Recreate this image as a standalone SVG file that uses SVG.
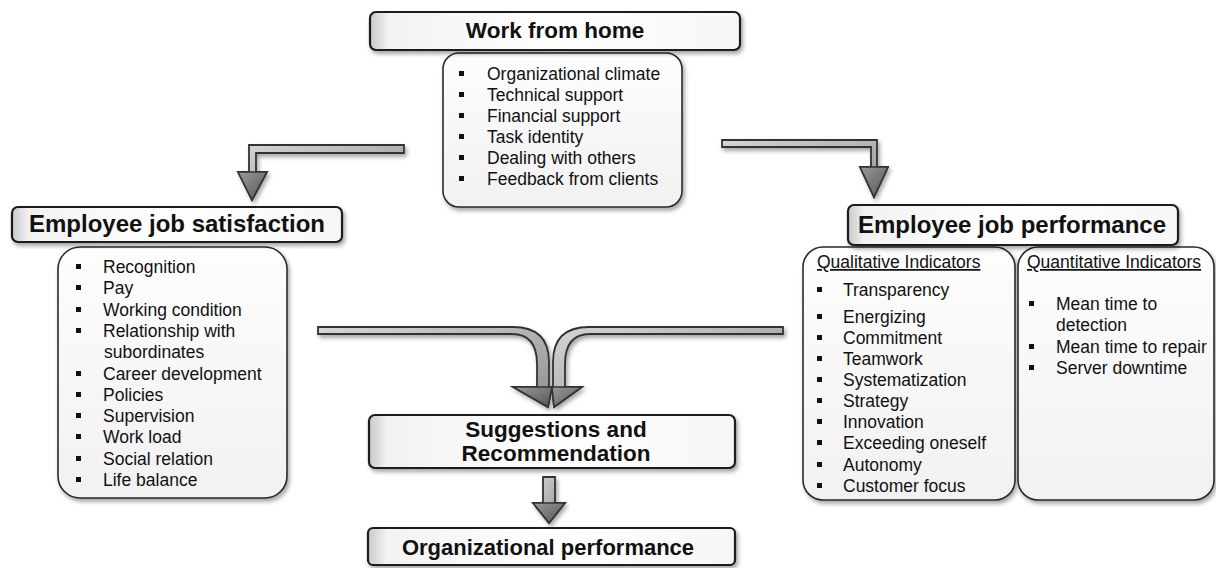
<svg xmlns="http://www.w3.org/2000/svg" width="1216" height="568" viewBox="0 0 1216 568">
  <defs>
    <style>
      text { font-family: "Liberation Sans", Arial, sans-serif; fill: #111; }
      .title { font-weight: bold; text-anchor: middle; }
      .item { font-size: 17.5px; }
      .head { font-size: 17.5px; text-decoration: underline; }
      .tbox { fill: url(#titleFill); stroke: #1a1a1a; stroke-width: 2.2; filter: url(#shadow); }
      .lbox { fill: url(#listFill); stroke: #2a2a2a; stroke-width: 1.6; filter: url(#shadow); }
      .bar { fill: url(#barFill); stroke: #333; stroke-width: 1.8; stroke-linejoin: miter; filter: url(#shadow); }
      .tip { fill: url(#tipFill); stroke: #333; stroke-width: 1.6; stroke-linejoin: miter; }
    </style>
    <filter id="shadow" x="-10%" y="-10%" width="125%" height="130%">
      <feDropShadow dx="2" dy="3" stdDeviation="2" flood-color="#000" flood-opacity="0.35"/>
    </filter>
    <linearGradient id="titleFill" x1="0" y1="0" x2="1" y2="0">
      <stop offset="0" stop-color="#c9c9c9"/>
      <stop offset="0.05" stop-color="#f2f2f2"/>
      <stop offset="0.5" stop-color="#ffffff"/>
      <stop offset="1" stop-color="#f6f6f6"/>
    </linearGradient>
    <linearGradient id="listFill" x1="0" y1="0" x2="0" y2="1">
      <stop offset="0" stop-color="#fdfdfd"/>
      <stop offset="1" stop-color="#f1f1f1"/>
    </linearGradient>
    <linearGradient id="barFill" x1="0" y1="0" x2="1" y2="1">
      <stop offset="0" stop-color="#d6d6d6"/>
      <stop offset="1" stop-color="#8e8e8e"/>
    </linearGradient>
    <linearGradient id="tipFill" x1="0" y1="0" x2="1" y2="1">
      <stop offset="0" stop-color="#9a9a9a"/>
      <stop offset="1" stop-color="#555"/>
    </linearGradient>
    <rect id="dot" width="5" height="5" fill="#111"/>
  </defs>

  <rect width="1216" height="568" fill="#fff"/>

  <!-- connectors -->
  <g id="connectors">
    <!-- Work from home -> job satisfaction -->
    <path class="bar" d="M404,145 H249 V172 H238 L252,200 L267,172 H256 V153 H404 Z"/>
    <path class="tip" d="M238,172 L252,200 L267,172 Z"/>
    <!-- Work from home -> job performance -->
    <path class="bar" d="M722,140 H877 V167 H888 L874,197 L860,167 H871 V147 H722 Z"/>
    <path class="tip" d="M860,167 L874,197 L888,167 Z"/>
    <!-- satisfaction -> suggestions (merging) -->
    <path class="bar" d="M318,327 H513 C539,327 549,340 549,362 V387 H552 L548,407 L513,387 H537 V364 C537,345 530,334 512,334 H318 Z"/>
    <path class="tip" d="M513,387 L552,387 L548,407 Z"/>
    <!-- performance -> suggestions (merging) -->
    <path class="bar" d="M783,327 H589 C563,327 553,340 553,362 V387 H552 L554,407 L582,387 H565 V364 C565,345 572,334 590,334 H783 Z"/>
    <path class="tip" d="M552,387 L582,387 L554,407 Z"/>
    <!-- suggestions -> organizational performance -->
    <path class="bar" d="M543,477 H555 V503 H565 L549,523 L533,503 H543 Z"/>
    <path class="tip" d="M533,503 L565,503 L549,523 Z"/>
  </g>

  <!-- Work from home -->
  <g id="wfh-items">
    <rect class="lbox" x="443" y="53" width="239" height="154" rx="16"/>
    <use href="#dot" x="459" y="71"/>
    <use href="#dot" x="459" y="92"/>
    <use href="#dot" x="459" y="113"/>
    <use href="#dot" x="459" y="134"/>
    <use href="#dot" x="459" y="155"/>
    <use href="#dot" x="459" y="176"/>
    <text class="item" x="487" y="80">Organizational climate</text>
    <text class="item" x="487" y="101">Technical support</text>
    <text class="item" x="487" y="122">Financial support</text>
    <text class="item" x="487" y="143">Task identity</text>
    <text class="item" x="487" y="164">Dealing with others</text>
    <text class="item" x="487" y="185">Feedback from clients</text>
  </g>
  <g id="wfh">
    <rect class="tbox" x="370" y="12" width="370" height="38" rx="6"/>
    <text class="title" x="555" y="38" font-size="22.5">Work from home</text>
  </g>

  <!-- Employee job satisfaction -->
  <g id="satisfaction-items">
    <rect class="lbox" x="58" y="247" width="229" height="251" rx="22"/>
    <use href="#dot" x="76" y="264"/>
    <use href="#dot" x="76" y="285"/>
    <use href="#dot" x="76" y="307"/>
    <use href="#dot" x="76" y="328"/>
    <use href="#dot" x="76" y="371"/>
    <use href="#dot" x="76" y="392"/>
    <use href="#dot" x="76" y="413"/>
    <use href="#dot" x="76" y="434"/>
    <use href="#dot" x="76" y="456"/>
    <use href="#dot" x="76" y="477"/>
    <text class="item" x="103" y="273">Recognition</text>
    <text class="item" x="103" y="294">Pay</text>
    <text class="item" x="103" y="316">Working condition</text>
    <text class="item" x="103" y="337">Relationship with</text>
    <text class="item" x="104" y="358">subordinates</text>
    <text class="item" x="103" y="380">Career development</text>
    <text class="item" x="103" y="401">Policies</text>
    <text class="item" x="103" y="422">Supervision</text>
    <text class="item" x="103" y="443">Work load</text>
    <text class="item" x="103" y="465">Social relation</text>
    <text class="item" x="103" y="486">Life balance</text>
  </g>
  <g id="satisfaction">
    <rect class="tbox" x="12" y="207" width="330" height="35" rx="6"/>
    <text class="title" x="177" y="232" font-size="24">Employee job satisfaction</text>
  </g>

  <!-- Employee job performance -->
  <g id="qualitative">
    <rect class="lbox" x="803" y="247" width="212" height="253" rx="20"/>
    <text class="head" x="817" y="268">Qualitative Indicators</text>
    <use href="#dot" x="817" y="287"/>
    <use href="#dot" x="817" y="314"/>
    <use href="#dot" x="817" y="335"/>
    <use href="#dot" x="817" y="356"/>
    <use href="#dot" x="817" y="377"/>
    <use href="#dot" x="817" y="398"/>
    <use href="#dot" x="817" y="419"/>
    <use href="#dot" x="817" y="440"/>
    <use href="#dot" x="817" y="462"/>
    <use href="#dot" x="817" y="483"/>
    <text class="item" x="843" y="296">Transparency</text>
    <text class="item" x="843" y="323">Energizing</text>
    <text class="item" x="843" y="344">Commitment</text>
    <text class="item" x="843" y="365">Teamwork</text>
    <text class="item" x="843" y="386">Systematization</text>
    <text class="item" x="843" y="407">Strategy</text>
    <text class="item" x="843" y="428">Innovation</text>
    <text class="item" x="843" y="449">Exceeding oneself</text>
    <text class="item" x="843" y="471">Autonomy</text>
    <text class="item" x="843" y="492">Customer focus</text>
  </g>
  <g id="quantitative">
    <rect class="lbox" x="1018" y="247" width="196" height="253" rx="20"/>
    <text class="head" x="1027" y="268">Quantitative Indicators</text>
    <use href="#dot" x="1029" y="301"/>
    <use href="#dot" x="1029" y="344"/>
    <use href="#dot" x="1029" y="365"/>
    <text class="item" x="1056" y="310">Mean time to</text>
    <text class="item" x="1056" y="331">detection</text>
    <text class="item" x="1056" y="353">Mean time to repair</text>
    <text class="item" x="1056" y="374">Server downtime</text>
  </g>
  <g id="performance">
    <rect class="tbox" x="848" y="205" width="330" height="40" rx="6"/>
    <text class="title" x="1012" y="233" font-size="24">Employee job performance</text>
  </g>

  <!-- Suggestions and Recommendation -->
  <g id="suggestions">
    <rect class="tbox" x="369" y="415" width="366" height="53" rx="6"/>
    <text class="title" x="556" y="437" font-size="22.5">Suggestions and</text>
    <text class="title" x="556" y="461" font-size="22.5">Recommendation</text>
  </g>

  <!-- Organizational performance -->
  <g id="org-performance">
    <rect class="tbox" x="368" y="528" width="367" height="37" rx="5"/>
    <text class="title" x="548" y="555" font-size="22">Organizational performance</text>
  </g>
</svg>
